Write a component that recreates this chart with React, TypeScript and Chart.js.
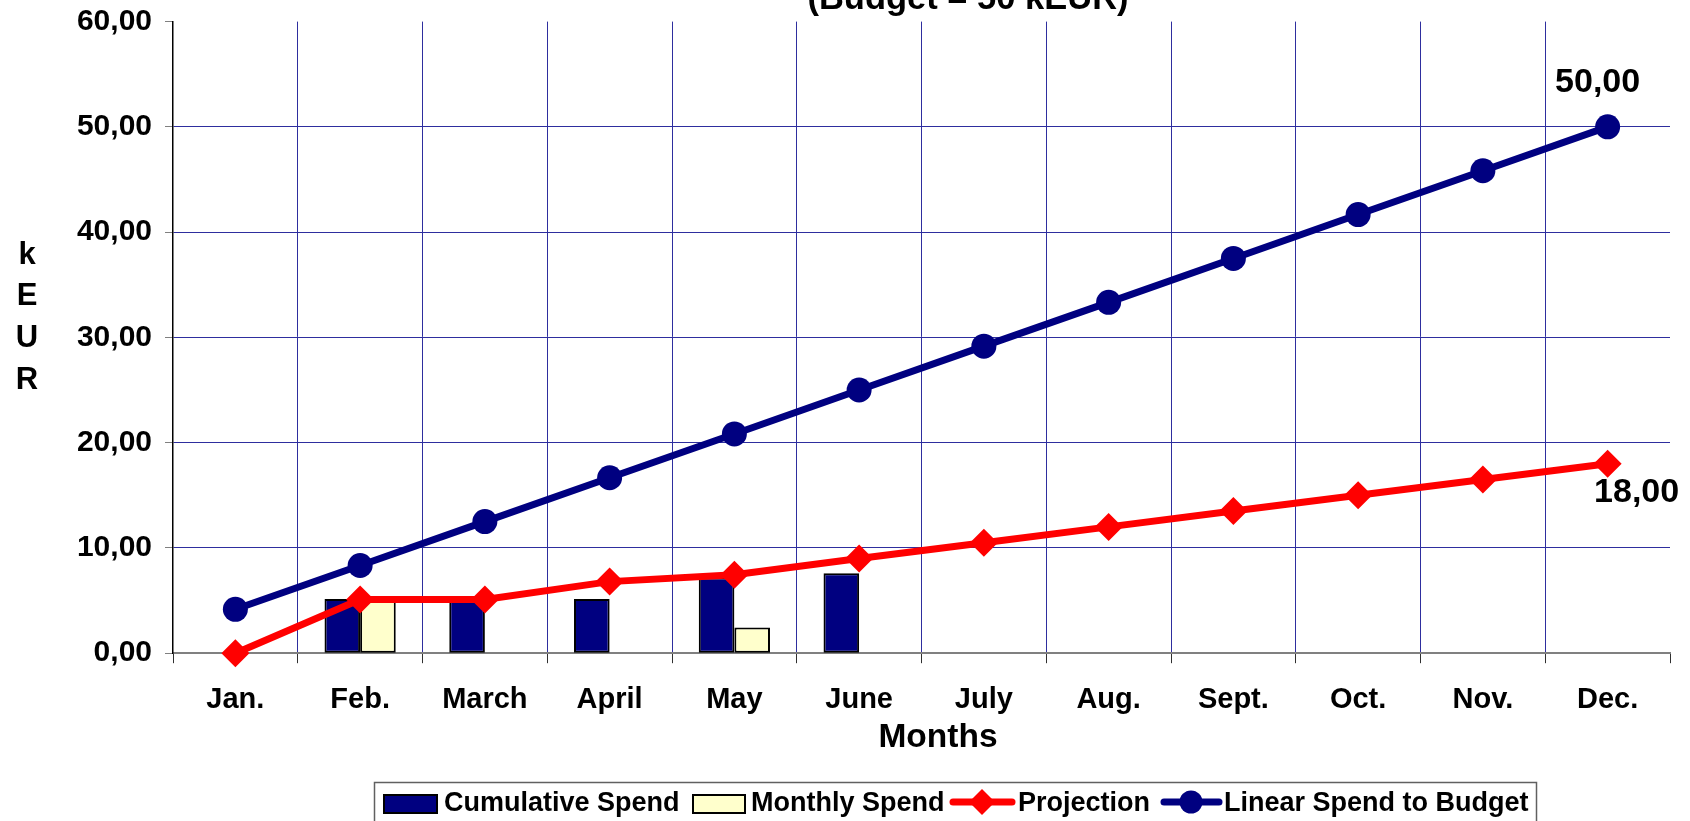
import React, { useEffect, useRef } from 'react';
import { Chart, registerables } from 'chart.js';

Chart.register(...registerables);

const months = ['Jan.', 'Feb.', 'March', 'April', 'May', 'June', 'July', 'Aug.', 'Sept.', 'Oct.', 'Nov.', 'Dec.'];
const cumulativeSpend = [null, 5.15, 5.15, 5.15, 7.2, 7.6, null, null, null, null, null, null];
const monthlySpend = [null, 5.15, null, null, 2.45, null, null, null, null, null, null, null];
const projection = [0, 5.1, 5.1, 6.8, 7.45, 9.0, 10.5, 12.0, 13.5, 15.0, 16.5, 18.0];
const linearSpend = [4.17, 8.33, 12.5, 16.67, 20.83, 25.0, 29.17, 33.33, 37.5, 41.67, 45.83, 50.0];
const seriesNames = ['Cumulative Spend', 'Monthly Spend', 'Projection', 'Linear Spend to Budget'];
const yMin = 0;
const yMax = 60;
const yStep = 10;
const titleText = '(Budget = 50 kEUR)';
const xTitle = 'Months';
const yTitle = ['k', 'E', 'U', 'R'];

const FONT = "'Liberation Sans', Arial, Helvetica, sans-serif";
const NAVY = '#000080';
const CREAM = '#FFFFCC';
const RED = '#FF0000';
const GRID = '#2e2e9e';

const fmt = (v: number) => v.toFixed(2).replace('.', ',');

const decorPlugin = {
  id: 'decor',
  afterDatasetsDraw(chart: any) {
    const ctx = chart.ctx;
    const xs = chart.scales.x;
    const ys = chart.scales.y;
    const last = months.length - 1;
    ctx.save();
    ctx.fillStyle = '#000';
    ctx.textAlign = 'center';
    ctx.textBaseline = 'middle';
    ctx.font = `bold 34px ${FONT}`;
    ctx.fillText(fmt(linearSpend[last]), xs.getPixelForValue(last) - 10, ys.getPixelForValue(linearSpend[last]) - 44);
    ctx.fillText(fmt(projection[last]), xs.getPixelForValue(last) + 29, ys.getPixelForValue(projection[last]) + 29);
    ctx.restore();
  },
  afterDraw(chart: any) {
    const ctx = chart.ctx;
    ctx.save();
    ctx.fillStyle = '#000';
    // Title (partly above the visible area)
    ctx.font = `bold 34.5px ${FONT}`;
    ctx.textAlign = 'center';
    ctx.textBaseline = 'alphabetic';
    ctx.fillText(titleText, 968, 9);
    // X axis title
    ctx.textBaseline = 'middle';
    ctx.font = `bold 33.5px ${FONT}`;
    ctx.fillText(xTitle, 938, 738);
    // Y axis title, stacked letters
    ctx.font = `bold 31px ${FONT}`;
    yTitle.forEach((ch, i) => ctx.fillText(ch, 27, 255 + i * 41.7));

    // Legend
    ctx.strokeStyle = '#606060';
    ctx.lineWidth = 1.5;
    ctx.strokeRect(374.5, 782.5, 1162, 60);
    ctx.font = `bold 27px ${FONT}`;
    ctx.textAlign = 'left';
    const cy = 804;
    // swatch 1
    ctx.fillStyle = NAVY;
    ctx.fillRect(384, 795, 53, 18);
    ctx.strokeStyle = '#000';
    ctx.lineWidth = 2;
    ctx.strokeRect(384, 795, 53, 18);
    ctx.fillStyle = '#000';
    ctx.fillText(seriesNames[0], 444, cy);
    // swatch 2
    ctx.fillStyle = CREAM;
    ctx.fillRect(693, 795, 52, 18);
    ctx.strokeRect(693, 795, 52, 18);
    ctx.fillStyle = '#000';
    ctx.fillText(seriesNames[1], 751, cy);
    // projection line
    ctx.strokeStyle = RED;
    ctx.lineWidth = 7;
    ctx.lineCap = 'round';
    ctx.beginPath();
    ctx.moveTo(953, 802);
    ctx.lineTo(1012, 802);
    ctx.stroke();
    ctx.fillStyle = RED;
    ctx.beginPath();
    ctx.moveTo(982, 789);
    ctx.lineTo(995, 802);
    ctx.lineTo(982, 815);
    ctx.lineTo(969, 802);
    ctx.closePath();
    ctx.fill();
    ctx.fillStyle = '#000';
    ctx.fillText(seriesNames[2], 1018, cy);
    // linear line
    ctx.strokeStyle = NAVY;
    ctx.beginPath();
    ctx.moveTo(1164, 802);
    ctx.lineTo(1219, 802);
    ctx.stroke();
    ctx.fillStyle = NAVY;
    ctx.beginPath();
    ctx.arc(1191, 802, 11.5, 0, Math.PI * 2);
    ctx.fill();
    ctx.fillStyle = '#000';
    ctx.fillText(seriesNames[3], 1224, cy);
    ctx.restore();
  },
};

export default function App() {
  const canvasRef = useRef<HTMLCanvasElement | null>(null);

  useEffect(() => {
    const canvas = canvasRef.current;
    if (!canvas) return;
    const chart = new Chart(canvas, {
      type: 'bar',
      data: {
        labels: months,
        datasets: [
          {
            type: 'line',
            label: seriesNames[3],
            data: linearSpend,
            borderColor: NAVY,
            backgroundColor: NAVY,
            borderWidth: 7,
            pointStyle: 'circle',
            pointRadius: 12.5,
            pointBorderWidth: 0,
            pointBackgroundColor: NAVY,
            tension: 0,
            clip: false,
            order: 0,
          } as any,
          {
            type: 'line',
            label: seriesNames[2],
            data: projection,
            borderColor: RED,
            backgroundColor: RED,
            borderWidth: 7,
            pointStyle: 'rectRot',
            pointRadius: 14,
            pointBorderWidth: 0,
            pointBackgroundColor: RED,
            tension: 0,
            clip: false,
            order: 1,
          } as any,
          {
            type: 'bar',
            label: seriesNames[0],
            data: cumulativeSpend,
            backgroundColor: NAVY,
            borderColor: '#000',
            borderWidth: 2,
            borderSkipped: false,
            categoryPercentage: 0.571,
            barPercentage: 1.0,
            order: 2,
          } as any,
          {
            type: 'bar',
            label: seriesNames[1],
            data: monthlySpend,
            backgroundColor: CREAM,
            borderColor: '#000',
            borderWidth: 2,
            borderSkipped: false,
            categoryPercentage: 0.571,
            barPercentage: 1.0,
            order: 2,
          } as any,
        ],
      },
      options: {
        responsive: false,
        animation: false,
        devicePixelRatio: 1,
        layout: { padding: { left: 0, right: 20, top: 21.6, bottom: 0 } },
        plugins: {
          legend: { display: false },
          title: { display: false },
          tooltip: { enabled: false },
        },
        scales: {
          x: {
            type: 'category',
            offset: true,
            afterFit: (s: any) => {
              s.height = 821 - 653.2;
            },
            grid: {
              offset: true,
              color: (c: any) => (c.index === undefined || c.index === 0 || c.index >= months.length ? 'transparent' : GRID),
              lineWidth: 1,
              tickColor: '#303030',
              tickLength: 10,
              drawTicks: true,
            },
            border: { color: '#808080', width: 2 },
            ticks: {
              color: '#000',
              font: { family: FONT, size: 29, weight: 'bold' },
              padding: 19,
              maxRotation: 0,
              autoSkip: false,
            },
          },
          y: {
            min: yMin,
            max: yMax,
            afterFit: (s: any) => {
              s.width = 173;
            },
            grid: {
              color: (c: any) => {
                const v = c.tick ? c.tick.value : undefined;
                return v === yMax || v === yMin || v === undefined ? 'transparent' : GRID;
              },
              lineWidth: 1,
              tickColor: '#808080',
              tickLength: 8,
            },
            border: { color: '#000', width: 1.5 },
            ticks: {
              stepSize: yStep,
              color: '#000',
              font: { family: FONT, size: 30, weight: 'bold', lineHeight: 0.3 },
              padding: 13,
              callback: (v: any) => fmt(Number(v)),
            },
          },
        },
      } as any,
      plugins: [decorPlugin],
    });
    return () => chart.destroy();
  }, []);

  return (
    <div style={{ position: 'fixed', left: 0, top: 0, width: 1690, height: 821, background: '#fff' }}>
      <canvas ref={canvasRef} width={1690} height={821} style={{ display: 'block', width: 1690, height: 821 }} />
    </div>
  );
}
